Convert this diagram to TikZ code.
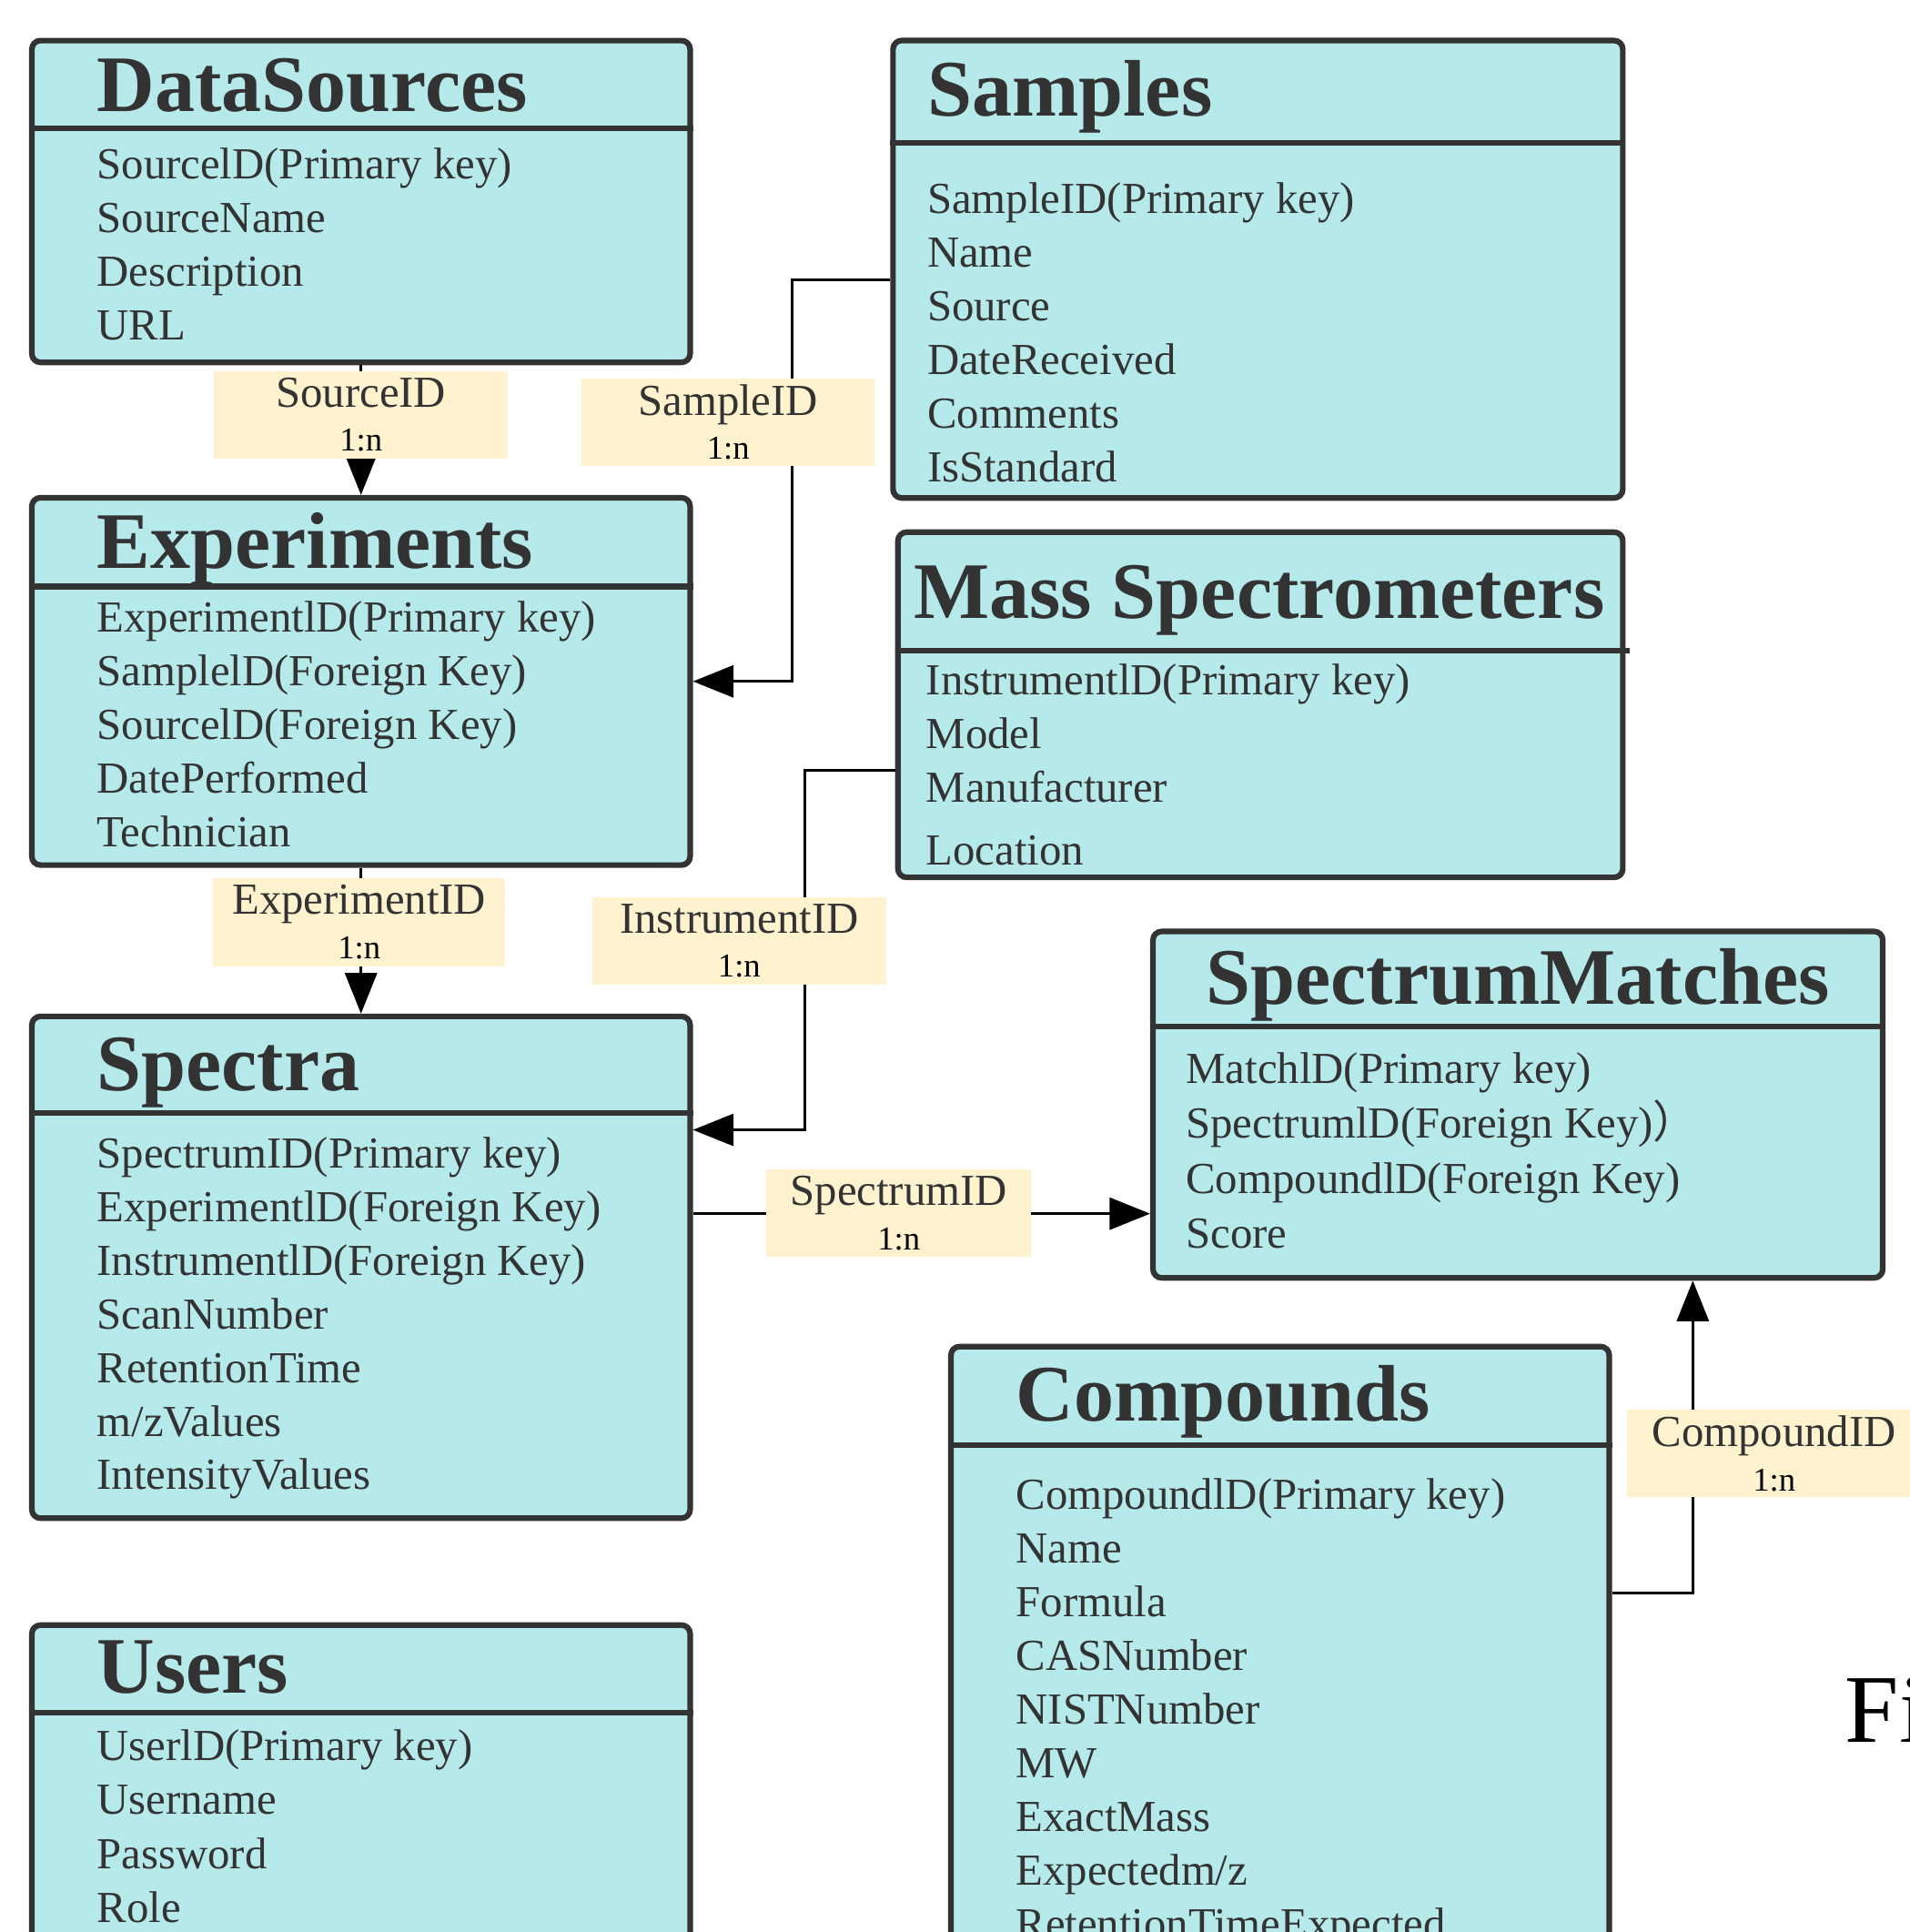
\documentclass[tikz,border=0pt]{standalone}
\usepackage{fontspec}
\setmainfont{Liberation Serif}
\newfontfamily\cjk{Noto Sans CJK SC}
\usetikzlibrary{arrows.meta,calc}

\definecolor{ink}{HTML}{333333}
\definecolor{tblfill}{HTML}{B5E9EA}
\definecolor{lblfill}{HTML}{FFF2CF}

\tikzset{
  tbl/.style={draw=ink, line width=1.3pt, fill=tblfill, rounded corners=0.07cm, inner sep=0pt},
  sepline/.style={draw=ink, line width=1.3pt},
  ttl/.style={anchor=base west, text=ink, inner sep=0pt, font=\fontsize{18.5pt}{20pt}\selectfont\bfseries},
  fld/.style={anchor=base west, text=ink, inner sep=0pt, font=\fontsize{10.24pt}{12pt}\selectfont},
  lbl/.style={fill=lblfill, minimum width=2.38cm, minimum height=0.71cm, inner sep=0pt, align=center, text=ink, font=\fontsize{10.24pt}{10.24pt}\selectfont},
  link/.style={line width=0.6pt},
  conn/.style={line width=0.6pt, -{Triangle[length=0.33cm,width=0.26cm]}}
}
\newcommand{\card}{{\fontsize{7.7pt}{10.24pt}\selectfont\color{black}1:n}}

\begin{document}
\begin{tikzpicture}[x=0.01cm, y=-0.01cm]
  \useasboundingbox (0,0) rectangle (1550,1568);

  % DataSources
  \node[tbl, minimum width=5.34cm, minimum height=2.61cm] (ds) at (293,163.5) {};
  \draw[sepline] (ds.west |- 0,104) -- (ds.east |- 0,104);
  \node[ttl] (ds-t) at (78,90.5) {DataSources};
  \foreach \f [count=\i] in {SourcelD(Primary key), SourceName, Description, URL}
    \node[fld] (ds-\i) at (78,{145+(\i-1)*43.7}) {\f};

  % Samples
  \node[tbl, minimum width=5.92cm, minimum height=3.71cm] (smp) at (1021,218.5) {};
  \draw[sepline] (smp.west |- 0,116) -- (smp.east |- 0,116);
  \node[ttl] (smp-t) at (752,94) {Samples};
  \foreach \f [count=\i] in {SampleID(Primary key), Name, Source, DateReceived, Comments, IsStandard}
    \node[fld] (smp-\i) at (752,{173+(\i-1)*43.6}) {\f};

  % Experiments
  \node[tbl, minimum width=5.34cm, minimum height=2.98cm] (exp) at (293,553) {};
  \draw[sepline] (exp.west |- 0,476) -- (exp.east |- 0,476);
  \node[ttl] (exp-t) at (78,461) {Experiments};
  \foreach \f [count=\i] in {ExperimentlD(Primary key), SamplelD(Foreign Key), SourcelD(Foreign Key), DatePerformed, Technician}
    \node[fld] (exp-\i) at (78,{513+(\i-1)*43.6}) {\f};

  % Mass Spectrometers
  \node[tbl, minimum width=5.88cm, minimum height=2.80cm] (ms) at (1023,572) {};
  \draw[sepline] (ms.west |- 0,528) -- ($(ms.east |- 0,528)+(3,0)$);
  \node[ttl] (ms-t) at (741,502) {Mass Spectrometers};
  \foreach \f [count=\i] in {InstrumentlD(Primary key), Model, Manufacturer}
    \node[fld] (ms-\i) at (751,{564+(\i-1)*43.5}) {\f};
  \node[fld] (ms-4) at (751,702) {Location};

  % Spectra
  \node[tbl, minimum width=5.34cm, minimum height=4.07cm] (spc) at (293,1028.5) {};
  \draw[sepline] (spc.west |- 0,903) -- (spc.east |- 0,903);
  \node[ttl] (spc-t) at (78,885) {Spectra};
  \foreach \f [count=\i] in {SpectrumID(Primary key), ExperimentlD(Foreign Key), InstrumentlD(Foreign Key), ScanNumber, RetentionTime, m/zValues, IntensityValues}
    \node[fld] (spc-\i) at (78,{948+(\i-1)*43.5}) {\f};

  % SpectrumMatches
  \node[tbl, minimum width=5.92cm, minimum height=2.81cm] (sm) at (1232,896.5) {};
  \draw[sepline] (sm.west |- 0,833) -- (sm.east |- 0,833);
  \node[ttl, anchor=base] (sm-t) at (1232,815) {SpectrumMatches};
  \foreach \f [count=\i] in {MatchlD(Primary key), SpectrumlD(Foreign Key){\cjk ）}, CompoundlD(Foreign Key), Score}
    \node[fld] (sm-\i) at (962,{879+(\i-1)*44.7}) {\f};

  % Compounds
  \node[tbl, minimum width=5.34cm, minimum height=5.27cm] (cmp) at (1039,1356.5) {};
  \draw[sepline] (cmp.west |- 0,1173) -- (cmp.east |- 0,1173);
  \node[ttl] (cmp-t) at (824,1153) {Compounds};
  \foreach \f [count=\i] in {CompoundlD(Primary key), Name, Formula, CASNumber, NISTNumber, MW, ExactMass, Expectedm/z, RetentionTimeExpected}
    \node[fld] (cmp-\i) at (824,{1225+(\i-1)*43.6}) {\f};

  % Users
  \node[tbl, minimum width=5.34cm, minimum height=3.01cm] (usr) at (293,1469.5) {};
  \draw[sepline] (usr.west |- 0,1390) -- (usr.east |- 0,1390);
  \node[ttl] (usr-t) at (78,1374) {Users};
  \foreach \f [count=\i] in {UserlD(Primary key), Username, Password, Role}
    \node[fld] (usr-\i) at (78,{1429+(\i-1)*43.7}) {\f};

  % relations
  \draw[conn] (ds.south) -- (exp.north);
  \draw[conn] (smp.west |- 0,227) -- (643,227) |- (exp.east);
  \draw[conn] (exp.south) -- (spc.north);
  \draw[conn] (ms.west |- 0,625) -- (653,625) |- (spc.east |- 0,917);
  \draw[conn] (spc.east |- 0,985) -- (sm.west |- 0,985);
  \draw[conn] (cmp.east |- 0,1293) -| (sm.south -| 1374,0);

  % relation labels
  \node[lbl] (l-src) at (293,336.5) {SourceID\\\card};
  \node[lbl] (l-smp) at (591,342.5) {SampleID\\\card};
  \node[lbl, minimum width=2.37cm] (l-exp) at (291.5,748.5) {ExperimentID\\\card};
  \node[lbl] (l-ins) at (600,763.5) {InstrumentID\\\card};
  \node[lbl, minimum width=2.15cm] (l-spc) at (729.5,984.5) {SpectrumID\\\card};
  \node[lbl] (l-cmp) at (1440,1179.5) {CompoundID\\\card};

  % caption start at the right edge
  \node[anchor=base west, inner sep=0pt, font=\fontsize{22.4pt}{24pt}\selectfont] (fig) at (1497,1414) {Fi};
\end{tikzpicture}
\end{document}
